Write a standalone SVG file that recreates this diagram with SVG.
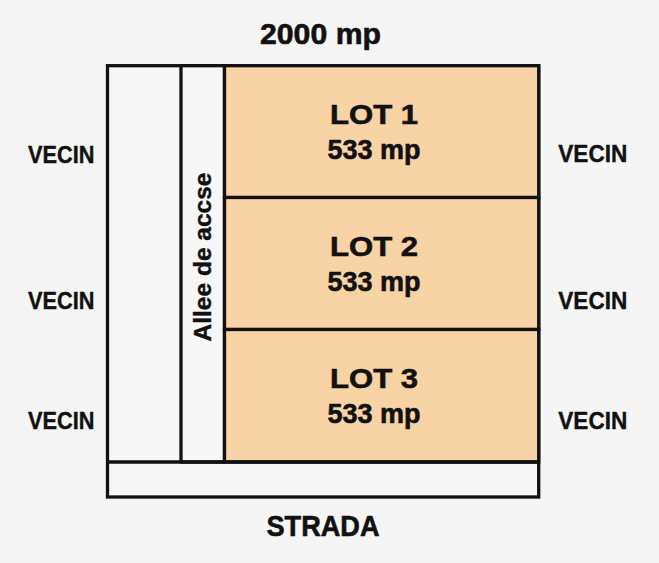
<svg xmlns="http://www.w3.org/2000/svg" width="659" height="563" viewBox="0 0 659 563">
<style>
  .bg { fill: #f5f5f5; }
  .plain { fill: #f7f7f7; stroke: #111; stroke-width: 3.3; }
  .lot { fill: #f8d3a6; stroke: #111; stroke-width: 3.3; }
  .ln { stroke: #111; stroke-width: 3.3; fill: none; }
  text { font-family: "Liberation Sans", Arial, sans-serif; font-weight: bold; fill: #111; stroke: #111; stroke-width: 0.6; text-anchor: middle; }
  .big { font-size: 29px; }
  .lotT { font-size: 27.5px; }
  .vec { font-size: 24px; stroke-width: 0.4; }
  .alley { font-size: 24px; stroke-width: 0.4; }
</style>
<rect class="bg" x="0" y="0" width="659" height="563"/>
<g id="plot">
  <rect class="plain" x="107.5" y="65.7" width="431.2" height="431.3"/>
</g>
<g id="alley">
  <rect class="plain" x="181" y="65.7" width="43.5" height="396.3"/>
  <text class="alley" transform="translate(210.5,257) rotate(-90)" x="0" y="0" textLength="169" lengthAdjust="spacingAndGlyphs">Allee de accse</text>
</g>
<g id="lot1">
  <rect class="lot" x="224.5" y="65.7" width="314.2" height="131.8"/>
  <text class="lotT" x="374" y="124.3" textLength="88" lengthAdjust="spacingAndGlyphs">LOT 1</text>
  <text class="lotT" x="374" y="159.3" textLength="93" lengthAdjust="spacingAndGlyphs">533 mp</text>
</g>
<g id="lot2">
  <rect class="lot" x="224.5" y="197.5" width="314.2" height="132"/>
  <text class="lotT" x="374" y="256.3" textLength="88" lengthAdjust="spacingAndGlyphs">LOT 2</text>
  <text class="lotT" x="374" y="291.3" textLength="93" lengthAdjust="spacingAndGlyphs">533 mp</text>
</g>
<g id="lot3">
  <rect class="lot" x="224.5" y="329.5" width="314.2" height="132.5"/>
  <text class="lotT" x="374" y="388.3" textLength="88" lengthAdjust="spacingAndGlyphs">LOT 3</text>
  <text class="lotT" x="374" y="423.3" textLength="93" lengthAdjust="spacingAndGlyphs">533 mp</text>
</g>
<g id="street-strip">
  <line class="ln" x1="107.5" y1="462" x2="538.7" y2="462"/>
</g>
<g id="labels">
  <text class="big" x="320.5" y="43.5" textLength="121" lengthAdjust="spacingAndGlyphs">2000 mp</text>
  <text class="big" x="323" y="536" textLength="113" lengthAdjust="spacingAndGlyphs">STRADA</text>
  <text class="vec" x="61.2" y="162.8" textLength="66.5" lengthAdjust="spacingAndGlyphs">VECIN</text>
  <text class="vec" x="61.2" y="308.5" textLength="66.5" lengthAdjust="spacingAndGlyphs">VECIN</text>
  <text class="vec" x="61.2" y="428.8" textLength="66.5" lengthAdjust="spacingAndGlyphs">VECIN</text>
  <text class="vec" x="592.8" y="162.3" textLength="69" lengthAdjust="spacingAndGlyphs">VECIN</text>
  <text class="vec" x="592.8" y="308.5" textLength="69" lengthAdjust="spacingAndGlyphs">VECIN</text>
  <text class="vec" x="592.8" y="428.5" textLength="69" lengthAdjust="spacingAndGlyphs">VECIN</text>
</g>
</svg>
